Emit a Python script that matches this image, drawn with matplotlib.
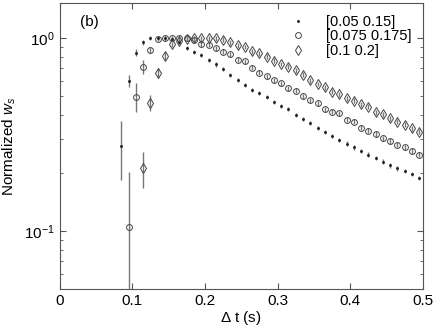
import numpy as np
import matplotlib.pyplot as plt

plt.rcParams['font.family'] = ['Liberation Sans', 'DejaVu Sans']
plt.rcParams['mathtext.fontset'] = 'custom'
plt.rcParams['mathtext.rm'] = 'Liberation Sans'
plt.rcParams['mathtext.it'] = 'Liberation Sans:italic'

# window [0.05 0.15]
t1 = [0.085, 0.095, 0.105, 0.115, 0.125, 0.135, 0.145, 0.155, 0.165, 0.175,
      0.185, 0.195, 0.205, 0.215, 0.225, 0.235, 0.245, 0.255, 0.265, 0.275,
      0.285, 0.295, 0.305, 0.315, 0.325, 0.335, 0.345, 0.355, 0.365, 0.375,
      0.385, 0.395, 0.405, 0.415, 0.425, 0.435, 0.445, 0.455, 0.465, 0.475,
      0.485, 0.495]
w1 = [0.277, 0.60, 0.84, 0.95, 1.0, 1.0, 1.0, 0.99, 0.95, 0.89,
      0.85, 0.82, 0.77, 0.73, 0.69, 0.645, 0.608, 0.573, 0.541, 0.518,
      0.493, 0.468, 0.446, 0.428, 0.40, 0.38, 0.362, 0.342, 0.325, 0.31,
      0.297, 0.284, 0.271, 0.26, 0.249, 0.24, 0.229, 0.219, 0.211, 0.204,
      0.197, 0.188]
e1 = [0.094, 0.045, 0.035, 0.03, 0.025, 0.025, 0.025, 0.024, 0.023, 0.022,
      0.021, 0.02, 0.019, 0.018, 0.017, 0.016, 0.015, 0.014, 0.013, 0.013,
      0.012, 0.012, 0.011, 0.011, 0.010, 0.010, 0.009, 0.009, 0.008, 0.008,
      0.008, 0.007, 0.007, 0.007, 0.007, 0.006, 0.006, 0.006, 0.006, 0.005,
      0.005, 0.005]

# window [0.075 0.175]
t2 = [0.095, 0.105, 0.115, 0.125, 0.135, 0.145, 0.155, 0.165, 0.175, 0.185,
      0.195, 0.205, 0.215, 0.225, 0.235, 0.245, 0.255, 0.265, 0.275, 0.285,
      0.295, 0.305, 0.315, 0.325, 0.335, 0.345, 0.355, 0.365, 0.375, 0.385,
      0.395, 0.405, 0.415, 0.425, 0.435, 0.445, 0.455, 0.465, 0.475, 0.485,
      0.495]
w2 = [0.105, 0.497, 0.71, 0.867, 0.99, 1.0, 1.0, 1.0, 1.0, 0.98,
      0.93, 0.925, 0.885, 0.85, 0.825, 0.773, 0.758, 0.703, 0.66, 0.636,
      0.606, 0.583, 0.549, 0.534, 0.498, 0.476, 0.459, 0.428, 0.416, 0.408,
      0.377, 0.369, 0.343, 0.331, 0.318, 0.303, 0.293, 0.28, 0.272, 0.26,
      0.249]
e2 = [0.097, 0.085, 0.06, 0.03, 0.03, 0.03, 0.03, 0.03, 0.03, 0.03,
      0.028, 0.027, 0.026, 0.025, 0.024, 0.023, 0.022, 0.021, 0.02, 0.019,
      0.018, 0.017, 0.016, 0.016, 0.015, 0.014, 0.014, 0.013, 0.012, 0.012,
      0.011, 0.011, 0.010, 0.010, 0.010, 0.009, 0.009, 0.008, 0.008, 0.008,
      0.007]

# window [0.1 0.2]
t3 = [0.115, 0.125, 0.135, 0.145, 0.155, 0.165, 0.175, 0.185, 0.195, 0.205,
      0.215, 0.225, 0.235, 0.245, 0.255, 0.265, 0.275, 0.285, 0.295, 0.305,
      0.315, 0.325, 0.335, 0.345, 0.355, 0.365, 0.375, 0.385, 0.395, 0.405,
      0.415, 0.425, 0.435, 0.445, 0.455, 0.465, 0.475, 0.485, 0.495]
w3 = [0.212, 0.463, 0.661, 0.807, 0.928, 0.96, 0.99, 1.0, 1.0, 1.0,
      1.0, 0.98, 0.95, 0.92, 0.90, 0.855, 0.833, 0.80, 0.763, 0.734,
      0.71, 0.683, 0.645, 0.606, 0.578, 0.556, 0.528, 0.511, 0.488, 0.474,
      0.454, 0.441, 0.413, 0.404, 0.384, 0.369, 0.355, 0.341, 0.327]
e3 = [0.045, 0.042, 0.04, 0.035, 0.03, 0.03, 0.03, 0.03, 0.03, 0.03,
      0.03, 0.029, 0.028, 0.027, 0.026, 0.025, 0.024, 0.023, 0.022, 0.021,
      0.02, 0.02, 0.019, 0.018, 0.017, 0.016, 0.016, 0.015, 0.014, 0.014,
      0.013, 0.013, 0.012, 0.012, 0.011, 0.011, 0.010, 0.010, 0.010]

labels = ['[0.05 0.15]', '[0.075 0.175]', '[0.1 0.2]']

fig = plt.figure(figsize=(4.36, 3.27), dpi=100)
ax = fig.add_axes([0.1365, 0.1162, 0.8335, 0.8746])

ec = '#777777'
ax.errorbar(t1, w1, yerr=e1, fmt='.', color='#222222', ms=2.2, ecolor=ec,
            elinewidth=1, capsize=0, label=labels[0])
ax.errorbar(t2, w2, yerr=e2, fmt='o', mfc='none', mec='#444444', ms=4.2,
            mew=0.7, ecolor=ec, elinewidth=1, capsize=0, label=labels[1])
ax.errorbar(t3, w3, yerr=e3, fmt='d', mfc='none', mec='#444444', ms=4.8,
            mew=0.7, ecolor=ec, elinewidth=1, capsize=0, label=labels[2])

ax.set_yscale('log')
ax.set_xlim(0, 0.5)
ax.set_ylim(0.05, 1.52)
ax.set_xticks([0, 0.1, 0.2, 0.3, 0.4, 0.5])
ax.set_xticklabels(['0', '0.1', '0.2', '0.3', '0.4', '0.5'])
ax.tick_params(which='both', direction='in', top=True, right=True,
               labelsize=11, color='#555555')
ax.tick_params(which='major', length=4)
ax.tick_params(which='minor', length=2.5)
for s in ax.spines.values():
    s.set_color('#555555')

ax.set_xlabel(r'$\Delta$ t (s)', fontsize=11, labelpad=1)
ax.set_ylabel(r'Normalized $w_s$', fontsize=11)
ax.text(0.056, 0.958, '(b)', transform=ax.transAxes, fontsize=11,
        va='top')

hs, ls = ax.get_legend_handles_labels()
hs = [h[0] for h in hs]
ax.legend(hs, ls, loc='upper right', frameon=False, fontsize=10.5,
          handlelength=1.0, handletextpad=1.4, labelspacing=0.05,
          borderaxespad=0.4)

fig.savefig('out.png', dpi=100)
